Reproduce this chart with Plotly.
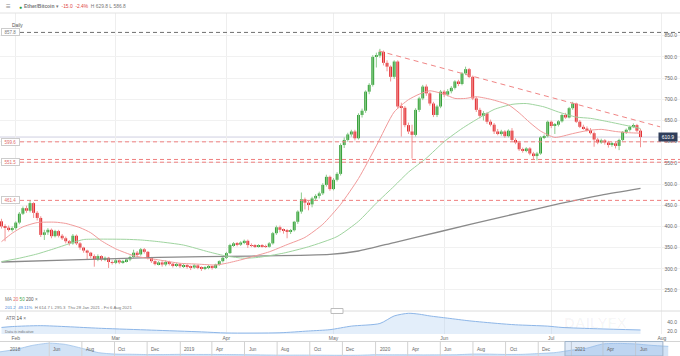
import plotly.graph_objects as go
import pandas as pd

W, H = 680, 356
FONT = "Liberation Sans, Arial, sans-serif"

# ---------------- data ----------------
first_open = 412.0
closes = [400, 397, 393, 396, 409, 430, 443, 437, 455, 432,
          420, 380, 386, 392, 377, 389, 378, 372, 365, 360,
          378, 360, 350, 343, 338, 330, 322, 330, 322, 326,
          316, 314, 320, 315, 318, 322, 328, 338, 334, 346,
          340, 326, 318, 311, 315, 310, 316, 312, 308, 311,
          306, 309, 305, 303, 308, 304, 300, 303, 306, 302,
          310, 318, 326, 337, 356, 360, 357, 362, 366, 356,
          354, 352, 355, 353, 352, 360, 384, 398, 392, 390,
          389, 391, 411, 435, 464, 456, 452, 466, 472, 478,
          498, 517, 488, 510, 524, 592, 604, 617, 624, 608,
          663, 673, 718, 734, 800, 803, 812, 786, 777, 753,
          789, 683, 680, 639, 624, 616, 675, 702, 730, 714,
          690, 663, 683, 718, 711, 719, 727, 742, 736, 761,
          771, 753, 702, 675, 661, 667, 647, 640, 624, 620,
          624, 613, 626, 604, 598, 582, 578, 584, 572, 566,
          572, 610, 613, 647, 637, 640, 648, 663, 657, 679,
          690, 647, 635, 631, 627, 620, 605, 598, 603, 598,
          594, 596, 590, 604, 623, 628, 635, 639, 625.9, 610.9]
highs = [418, 405, 402, 400, 412, 434, 447, 449, 461.4, 457,
         436, 424, 392, 396, 395, 392, 392, 382, 376, 368,
         382, 381, 363, 352, 345, 340, 334, 334, 332, 329,
         328, 320, 323, 322, 321, 325, 331, 345, 342, 349,
         349, 342, 328, 320, 318, 318, 320, 319, 314, 314,
         313, 312, 311, 308, 311, 310, 306, 306, 309, 308,
         312, 320, 329, 340, 359, 363, 363, 365, 369, 369,
         360, 358, 358, 358, 357, 363, 387, 402, 402, 395,
         394, 394, 413, 438, 480, 468, 460, 470, 476, 482,
         502, 522, 520, 514, 528, 596, 610, 621, 628, 628,
         667, 678, 721, 738, 804, 810, 819, 815, 792, 780,
         792, 792, 692, 684, 645, 640, 679, 706, 734, 735,
         717, 694, 687, 722, 722, 724, 731, 745, 746, 764,
         777, 774, 756, 706, 680, 672, 670, 652, 644, 630,
         628, 627, 629, 632, 608, 602, 586, 587, 587, 576,
         576, 613, 617, 650, 650, 644, 651, 666, 668, 682,
         694, 692, 651, 640, 636, 632, 624, 609, 607, 606,
         602, 599, 600, 607, 625, 631, 638, 643, 642, 629.8]
lows = [395, 365, 388, 388, 392, 405, 427, 432, 433, 420,
        414, 375, 368, 380, 372, 374, 374, 368, 360, 355,
        357, 356, 345, 338, 322, 325, 305, 318, 318, 318,
        302, 310, 311, 311, 312, 315, 318, 326, 330, 331,
        336, 322, 314, 308, 308, 305, 306, 308, 303, 304,
        302, 302, 300, 297, 300, 299, 295, 297, 299, 298,
        300, 307, 315, 323, 335, 352, 353, 354, 358, 349,
        351, 349, 350, 350, 349, 350, 357, 380, 386, 383,
        372, 382, 388, 406, 430, 440, 438, 445, 460, 466,
        474, 494, 484, 485, 506, 520, 585, 600, 612, 603,
        605, 657, 668, 712, 730, 775, 798, 780, 766, 742,
        748, 678, 612, 634, 618, 560, 612, 670, 698, 708,
        685, 658, 658, 679, 705, 707, 714, 723, 731, 733,
        757, 750, 698, 670, 655, 650, 642, 636, 618, 615,
        614, 609, 610, 600, 594, 578, 574, 575, 568, 557,
        556, 569, 606, 610, 632, 618, 636, 645, 654, 655,
        675, 644, 632, 628, 624, 617, 588, 594, 595, 593,
        586, 588, 584, 580, 601, 618, 624, 632, 622, 586.8]

start_date = "2021-01-28"

ma20_days = [0, 3, 6, 10, 15, 18, 22, 25, 28, 32, 37, 40, 44, 50, 55, 60, 63, 67, 70, 75,
             80, 85, 90, 95, 100, 105, 110, 114, 117, 120, 124, 127, 130, 133, 137, 142,
             145, 148, 151, 155, 160, 164, 168, 172, 176, 179]
ma20_vals = [364, 384, 399, 409, 410, 407, 397, 385, 366, 347, 331, 326, 321, 313, 311, 309,
             313, 321, 328, 340, 357, 374, 405, 452, 513, 590, 670, 699, 712, 720, 712, 702,
             702, 706, 700, 687, 668, 645, 625, 610, 619, 626, 629, 624, 621, 620]

ma50_days = [0, 5, 10, 15, 20, 23, 27, 35, 39, 44, 51, 58, 63, 68, 72, 79, 86, 94, 100,
             105, 110, 114, 119, 124, 129, 134, 138, 143, 147, 152, 156, 161, 165, 170,
             174, 179]
ma50_vals = [317, 325, 335, 348, 362, 369, 370, 369.5, 368, 364, 356, 340, 330, 325, 327,
             337, 352, 376, 412, 455, 495, 528, 561, 600, 631, 657, 676, 688, 690, 682,
             670, 658, 655, 647, 640, 631]

ma200_days = [0, 20, 44, 70, 92, 100, 110, 123, 140, 156, 168, 179]
ma200_vals = [316, 321, 327, 330, 334, 342, 362, 388, 422, 453, 474, 490]

atr_days = [0, 3, 11, 28, 42, 56, 63, 78, 86, 92, 98, 106, 110, 114, 117, 120, 125, 131,
            139, 144, 153, 157, 167, 179]
atr_vals = [28, 30, 32, 26, 22, 18, 15.5, 16, 20, 23, 31, 37, 54, 60, 58, 54, 49, 43,
            37, 34, 31, 28, 25, 22.3]

red_levels = [599.6, 558.0, 551.5, 461.4]
red_level_labels = ["599.6", "", "551.5", "461.4"]
gray_level = 857.8

trend_days = [105.7, 184.5]
trend_vals = [814.0, 635.0]

month_ticks = ["2021-02-01", "2021-03-01", "2021-04-01", "2021-05-01",
               "2021-06-01", "2021-07-01", "2021-08-01"]
month_labels = ["Feb", "Mar", "Apr", "May", "Jun", "Jul", "Aug"]
price_ticks = [250, 300, 350, 400, 450, 500, 550, 600, 650, 700, 750, 800, 850]
atr_ticks = [20, 40, 60]

nav_dates = ["2018-03-01", "2018-04-01", "2018-05-01", "2018-06-01", "2018-07-01",
             "2018-08-01", "2018-09-01", "2018-10-01", "2018-11-01", "2018-12-01",
             "2019-01-01", "2019-02-01", "2019-03-01", "2019-04-01", "2019-05-01",
             "2019-06-01", "2019-07-01", "2019-08-01", "2019-09-01", "2019-10-01",
             "2019-11-01", "2019-12-01", "2020-01-01", "2020-02-01", "2020-03-01",
             "2020-04-01", "2020-05-01", "2020-06-01", "2020-07-01", "2020-08-01",
             "2020-09-01", "2020-10-01", "2020-11-01", "2020-12-01", "2021-01-01",
             "2021-02-01", "2021-03-01", "2021-04-01", "2021-05-01", "2021-06-01",
             "2021-07-01", "2021-08-01"]
nav_vals = [371, 511, 717, 835, 768, 562, 330, 253, 243, 227,
            227, 238, 232, 232, 227, 217, 207, 196, 196, 196,
            191, 186, 191, 217, 212, 212, 207, 212, 217, 253,
            248, 232, 238, 279, 330, 459, 562, 794, 820, 794,
            717, 665]
nav_tick_dates = ["2018-06-01", "2018-08-01", "2018-10-01", "2018-12-01", "2019-02-01",
                  "2019-04-01", "2019-06-01", "2019-08-01", "2019-10-01", "2019-12-01",
                  "2020-02-01", "2020-04-01", "2020-06-01", "2020-08-01", "2020-10-01",
                  "2020-12-01", "2021-02-01", "2021-04-01", "2021-06-01"]
nav_tick_labels = ["Jun", "Aug", "Oct", "Dec", "2019", "Apr", "Jun", "Aug", "Oct", "Dec",
                   "2020", "Apr", "Jun", "Aug", "Oct", "Dec", "2021", "Apr", "Jun"]

# ---------------- derived ----------------
t0 = pd.Timestamp(start_date)
dates = pd.date_range(start_date, periods=len(closes), freq="D")
opens = [first_open] + closes[:-1]


def day(d):
    return t0 + pd.to_timedelta(d, unit="D")


UP_BODY, DN_BODY = "#2f9e33", "#e1262b"
UP_WICK, DN_WICK = "#8ccc8c", "#f29494"

wx_up, wy_up, wx_dn, wy_dn = [], [], [], []
for t, o, c, h, l in zip(dates, opens, closes, highs, lows):
    if c >= o:
        wx_up += [t, t, None]; wy_up += [l, h, None]
    else:
        wx_dn += [t, t, None]; wy_dn += [l, h, None]

body_base = [min(o, c) for o, c in zip(opens, closes)]
body_len = [max(abs(c - o), 0.9) for o, c in zip(opens, closes)]
body_col = [UP_BODY if c >= o else DN_BODY for o, c in zip(opens, closes)]

fig = go.Figure()
fig.add_trace(go.Scatter(x=wx_up, y=wy_up, mode="lines", line=dict(color=UP_WICK, width=1),
                         hoverinfo="skip", xaxis="x", yaxis="y"))
fig.add_trace(go.Scatter(x=wx_dn, y=wy_dn, mode="lines", line=dict(color=DN_WICK, width=1),
                         hoverinfo="skip", xaxis="x", yaxis="y"))
fig.add_trace(go.Bar(x=dates, y=body_len, base=body_base, width=0.8 * 86400000,
                     marker=dict(color=body_col, line=dict(width=0)), xaxis="x", yaxis="y"))

fig.add_trace(go.Scatter(x=[day(d) for d in ma200_days], y=ma200_vals, mode="lines",
                         line=dict(color="#8a8a8a", width=1.3, shape="spline", smoothing=0.6),
                         xaxis="x", yaxis="y"))
fig.add_trace(go.Scatter(x=[day(d) for d in ma50_days], y=ma50_vals, mode="lines",
                         line=dict(color="#9fd49f", width=1, shape="spline", smoothing=0.6),
                         xaxis="x", yaxis="y"))
fig.add_trace(go.Scatter(x=[day(d) for d in ma20_days], y=ma20_vals, mode="lines",
                         line=dict(color="#f19a9a", width=1, shape="spline", smoothing=0.6),
                         xaxis="x", yaxis="y"))
fig.add_trace(go.Scatter(x=[day(d) for d in trend_days], y=trend_vals, mode="lines",
                         line=dict(color="#f08585", width=1, dash="5px,4px"),
                         xaxis="x", yaxis="y"))

# ATR pane
fig.add_trace(go.Scatter(x=[day(d) for d in atr_days], y=atr_vals, mode="lines",
                         fill="tozeroy", fillcolor="rgba(175,205,240,0.35)",
                         line=dict(color="#8db6e8", width=1, shape="spline", smoothing=0.7),
                         xaxis="x2", yaxis="y2"))

# Navigator
fig.add_trace(go.Scatter(x=nav_dates, y=nav_vals, mode="lines", fill="tozeroy",
                         fillcolor="rgba(180,208,240,0.6)",
                         line=dict(color="#9dc1ea", width=0.8, shape="spline", smoothing=0.6),
                         xaxis="x3", yaxis="y3"))


def py(y):
    return (H - y) / H


x_range = ["2021-01-27 14:00", "2021-08-06 01:30"]

fig.update_layout(
    width=W, height=H, margin=dict(l=0, r=0, t=0, b=0),
    paper_bgcolor="white", plot_bgcolor="white", showlegend=False,
    font=dict(family=FONT, size=5, color="#666"),
    xaxis=dict(domain=[0, 1], range=x_range, type="date", anchor="y",
               tickvals=month_ticks, showticklabels=False, ticks="",
               showgrid=True, gridcolor="#eeeeee", gridwidth=1, zeroline=False, showline=False),
    yaxis=dict(domain=[py(311), py(13)], range=[200.4, 903.6], anchor="x", side="right",
               ticklabelposition="inside", tickvals=price_ticks,
               ticktext=[f"{v:.1f}" for v in price_ticks],
               tickfont=dict(size=5, color="#6a6a6a", family=FONT), ticks="",
               showgrid=True, gridcolor="#f1f1f1", zeroline=False, showline=False),
    xaxis2=dict(domain=[0, 1], range=x_range, type="date", anchor="y2", matches="x",
                tickvals=month_ticks, ticktext=month_labels, ticks="",
                tickfont=dict(size=5, color="#6a6a6a", family=FONT),
                showgrid=True, gridcolor="#eeeeee", zeroline=False, showline=False),
    yaxis2=dict(domain=[py(334), py(311)], range=[13.2, 65.2], anchor="x2", side="right",
                ticklabelposition="inside", tickvals=atr_ticks,
                ticktext=[f"{v:.1f}" for v in atr_ticks],
                tickfont=dict(size=5, color="#6a6a6a", family=FONT), ticks="",
                showgrid=False, zeroline=False, showline=False),
    xaxis3=dict(domain=[0, 1], range=["2018-03-01", "2021-08-23"], type="date",
                anchor="y3", visible=False),
    yaxis3=dict(domain=[0, py(341.5)], range=[150, 923], anchor="x3", visible=False),
)

shapes = []
shapes.append(dict(type="line", xref="paper", yref="paper", x0=0, x1=1, y0=py(13), y1=py(13),
                   line=dict(color="#e2e2e2", width=1)))
shapes.append(dict(type="line", xref="paper", yref="paper", x0=0, x1=1, y0=py(311), y1=py(311),
                   line=dict(color="#dcdcdc", width=1)))
shapes.append(dict(type="line", xref="paper", yref="paper", x0=0, x1=1, y0=py(341.5), y1=py(341.5),
                   line=dict(color="#d4d4d4", width=1)))
shapes.append(dict(type="rect", xref="paper", yref="paper", x0=331 / W, x1=343 / W,
                   y0=py(313.5), y1=py(308.5), line=dict(color="#bdbdbd", width=1),
                   fillcolor="white"))
shapes.append(dict(type="line", xref="paper", yref="y", x0=20 / W, x1=1, y0=gray_level,
                   y1=gray_level, line=dict(color="#6e6e6e", width=1, dash="4px,3px")))
for lv in red_levels:
    shapes.append(dict(type="line", xref="paper", yref="y", x0=20 / W, x1=1, y0=lv, y1=lv,
                       line=dict(color="#ef7f7f", width=1, dash="4px,3px")))
shapes.append(dict(type="line", xref="paper", yref="y", x0=0, x1=1, y0=closes[-1], y1=closes[-1],
                   line=dict(color="#cfcfe2", width=1), layer="below"))
for d in nav_tick_dates:
    shapes.append(dict(type="line", xref="x3", yref="paper", x0=d, x1=d, y0=0, y1=py(341.5),
                       line=dict(color="#d2d2d2", width=1)))
shapes.append(dict(type="rect", xref="x3", yref="paper", x0="2021-01-20", x1="2021-07-22",
                   y0=0, y1=py(341.5), fillcolor="rgba(120,165,225,0.22)",
                   line=dict(color="#9fb3c8", width=1)))
fig.update_layout(shapes=shapes)


def note(text, x, y, size=5, color="#666", xanchor="left", **kw):
    return dict(text=text, x=x / W, y=py(y), xref="paper", yref="paper", xanchor=xanchor,
                yanchor="middle", showarrow=False,
                font=dict(family=FONT, size=size, color=color), **kw)


chg = closes[-1] - opens[-1]
pct = chg / opens[-1] * 100
NB = "\u00a0"
ann = [
    note("≡", 4, 7, size=8, color="#8a8a8a"),
    note("●", 17, 7, size=5, color="#2e9e33"),
    note(f"<b>Ether/Bitcoin</b>{NB}▾{NB}{NB}<span style='color:#e0463f'>{chg:.1f}{NB}{NB}{pct:.1f}%</span>"
         f"{NB}{NB}H{NB}{highs[-1]:.1f}{NB}L{NB}{lows[-1]:.1f}", 22, 7, size=4.9, color="#777"),
    note("Daily", 10, 25, size=4.8, color="#555"),
    note(f"MA{NB}<span style='color:#e86a6a'>20</span>{NB}<span style='color:#4aa84a'>50</span>"
         f"{NB}<span style='color:#555'>200</span>{NB}×", 3, 299, size=4.6, color="#777"),
    note(f"<span style='color:#3f7fd6'>201.2{NB}{NB}49.11%</span>{NB}{NB}H{NB}614.7{NB}"
         f"L{NB}295.3{NB}{NB}Thu 28 Jan 2021 - Fri 6 Aug 2021", 3, 307, size=4.3, color="#777"),
    note(f"ATR{NB}<span style='color:#444'>14</span>{NB}×", 4, 318, size=4.8, color="#777"),
    note("Data is indicative", 3, 331.5, size=3.8, color="#777"),
    note("<b>DAILYFX</b>", 595, 322, size=15, color="rgba(0,0,0,0.035)", xanchor="center"),
    note("2018", 8, 349.5, size=4.6, color="#666"),
]
ann.append(dict(text=f"{gray_level:.1f}", x=1 / W, y=gray_level, xref="paper", yref="y",
                xanchor="left", yanchor="middle", showarrow=False, bgcolor="white",
                bordercolor="#cccccc", borderwidth=1, borderpad=0.5, width=16,
                font=dict(family=FONT, size=4.5, color="#777")))
for lv, lab in zip(red_levels, red_level_labels):
    if lab:
        ann.append(dict(text=lab, x=1 / W, y=lv, xref="paper", yref="y", xanchor="left",
                        yanchor="middle", showarrow=False, bgcolor="white",
                        bordercolor="#cccccc", borderwidth=1, borderpad=0.5, width=16,
                        font=dict(family=FONT, size=4.5, color="#e06a6a")))
ann.append(dict(text=f"{closes[-1]:.1f}", x=1 - 2 / W, y=closes[-1], xref="paper", yref="y",
                xanchor="right", yanchor="middle", showarrow=False, bgcolor="#2f3e5b",
                borderpad=1, width=16, font=dict(family=FONT, size=5, color="white")))
for d, lab in zip(nav_tick_dates, nav_tick_labels):
    ann.append(dict(text=lab, x=d, y=py(349.5), xref="x3", yref="paper", xanchor="left",
                    yanchor="middle", xshift=2, showarrow=False,
                    font=dict(family=FONT, size=4.6, color="#666")))
fig.update_layout(annotations=ann)

fig.write_html("out.html", config={"displayModeBar": False},
               post_script="document.body.style.margin='0';document.body.style.padding='0';")
